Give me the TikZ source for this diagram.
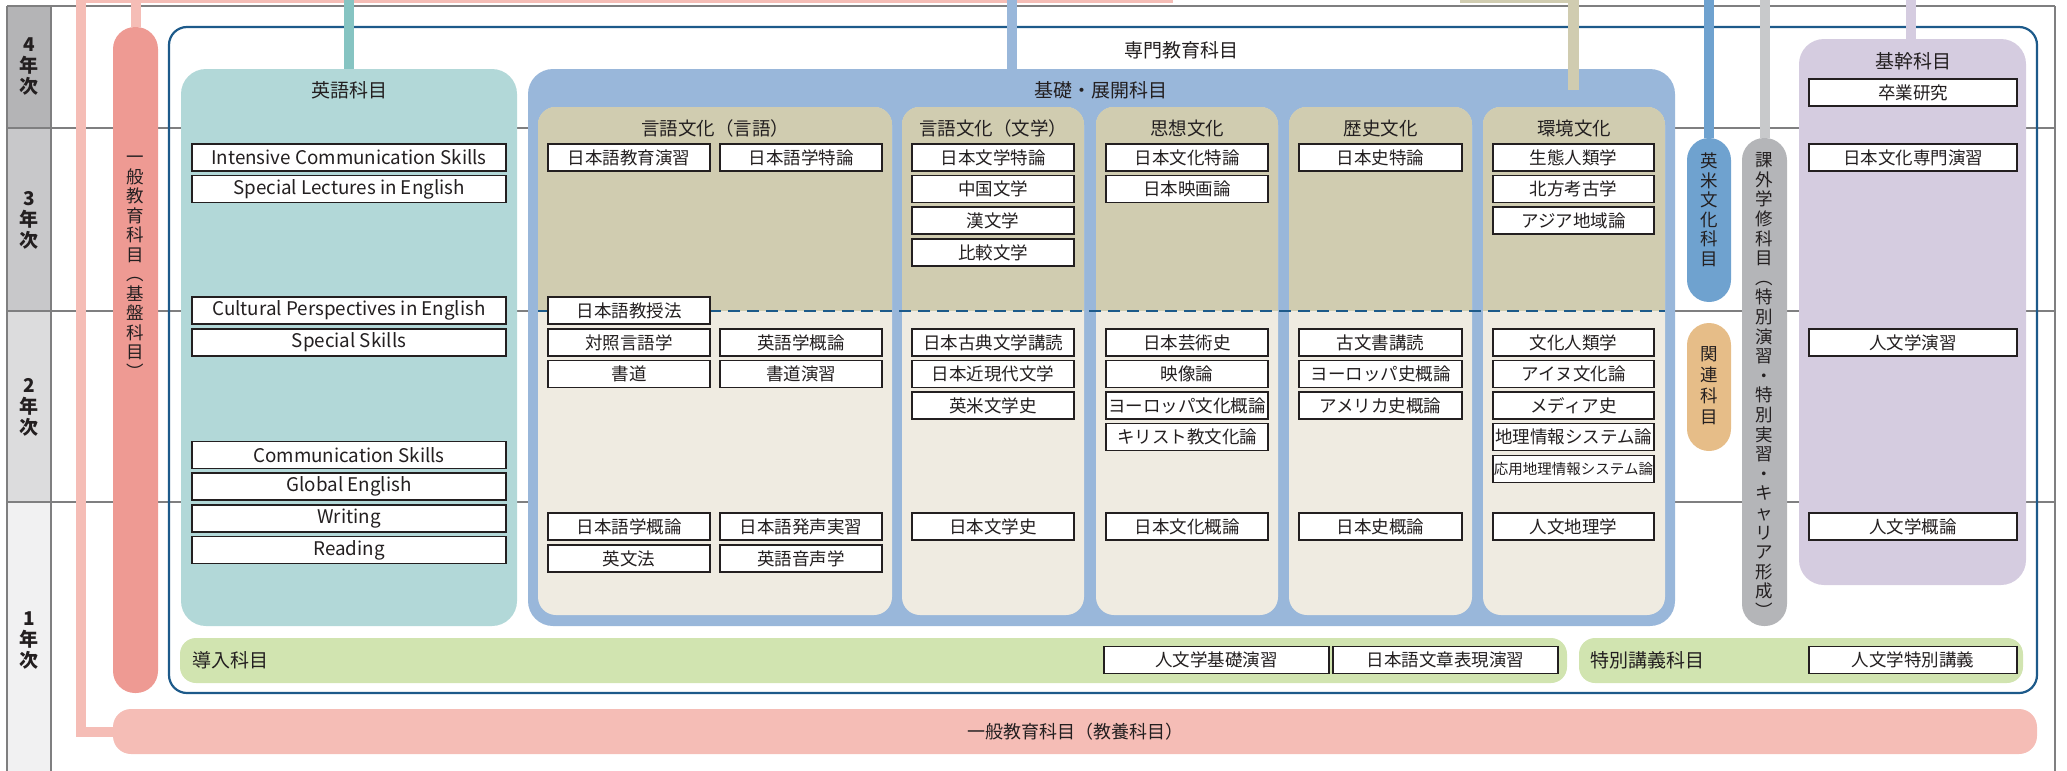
\documentclass[tikz,border=0pt]{standalone}
\usepackage{fontspec}
\setmainfont{Noto Sans CJK JP}
\usetikzlibrary{calc}
\definecolor{txt}{HTML}{231F20}
\definecolor{gridgray}{HTML}{7F7F80}
\definecolor{yr4}{HTML}{B4B4B6}
\definecolor{yr3}{HTML}{C8C8CA}
\definecolor{yr2}{HTML}{DCDCDD}
\definecolor{yr1}{HTML}{F1F1F2}
\definecolor{salmon}{HTML}{EE9A93}
\definecolor{lpink}{HTML}{F5BDB6}
\definecolor{navy}{HTML}{1D5A8A}
\definecolor{tealbox}{HTML}{B2D8D8}
\definecolor{tealline}{HTML}{86C4C2}
\definecolor{kisoblue}{HTML}{99B7DA}
\definecolor{khaki}{HTML}{D0CCB0}
\definecolor{cream}{HTML}{EFEBE1}
\definecolor{eiblue}{HTML}{6FA2CF}
\definecolor{kanorange}{HTML}{E6BD88}
\definecolor{kagray}{HTML}{B4B5B8}
\definecolor{kagrayl}{HTML}{C8C9CB}
\definecolor{purp}{HTML}{D5CCE0}
\definecolor{lgreen}{HTML}{D1E4B0}
\tikzset{
  course/.style={draw=txt,fill=white,line width=1.5pt,rectangle,minimum height=27pt,inner sep=0pt,text=txt,font=\fontsize{17.5}{18}\selectfont},
  encourse/.style={course,font=\fontsize{18.8}{19}\selectfont},
  panel/.style={fill=cream,rectangle,rounded corners=18pt,inner sep=0pt},
  pill/.style={rectangle,rounded corners=22pt,inner sep=0pt},
  vtxt/.style={align=center,inner sep=0pt,text=txt,font=\fontsize{17.5}{19.5}\selectfont},
  head/.style={inner sep=0pt,text=txt,font=\fontsize{19}{19}\selectfont},
  year/.style={align=center,inner sep=0pt,text=txt,font=\fontsize{19}{21}\bfseries\selectfont},
  stub/.style={line width=10pt},
  grid/.style={draw=gridgray,line width=1.2pt}
}
\begin{document}
\begin{tikzpicture}[x=1pt,y=-1pt]
\useasboundingbox (0,0) rectangle (2067,771);
\fill[yr4] (7,6) rectangle (51,128);
\fill[yr3] (7,128) rectangle (51,311);
\fill[yr2] (7,311) rectangle (51,502);
\fill[yr1] (7,502) rectangle (51,771);
\foreach \y in {6,128,311,502} {
  \draw[grid] (7,\y) -- (2055,\y);
}
\foreach \x in {7,51,2055} {
  \draw[grid] (\x,6) -- (\x,771);
}
\node[year] (Y4) at (29,67) {4\\年\\次};
\node[year] (Y3) at (29,220) {3\\年\\次};
\node[year] (Y2) at (29,407) {2\\年\\次};
\node[year] (Y1) at (29,640) {1\\年\\次};
% top connectors
\coordinate (PTOP) at (81,0);
\coordinate (PEND) at (1173,1);
\coordinate (KTOP) at (1460,1);
\coordinate (KEND) at (1579,1);
\draw[lpink,line width=3pt] (76,1) -- (PEND);
\draw[khaki,line width=3pt] (KTOP) -- (KEND);
\node[pill,fill=lpink,minimum width=1924pt,minimum height=45pt,rounded corners=18pt] (KYOYO) at (1075,731.5) {};
\node[head,font=\fontsize{18}{18}\selectfont] (KYOYOT) at (1075,731.5) {一般教育科目（教養科目）};
\draw[lpink,line width=10pt] (PTOP) |- (KYOYO.west);
\node[pill,fill=salmon,minimum width=45pt,minimum height=666pt] (KIBAN) at (135.5,360) {};
\draw[stub,lpink] (KIBAN.north) -- (KIBAN.north |- PTOP);
\node[vtxt] (KIBANT) at (135.5,267) {一\\般\\教\\育\\科\\目\\︵\\基\\盤\\科\\目\\︶};
\node[draw=navy,line width=2.2pt,rectangle,rounded corners=18pt,minimum width=1868pt,minimum height=666pt] (SENMON) at (1103,360) {};
\node[head] (SENMONT) at (1181,50) {専門教育科目};
% english
\node[rectangle,fill=tealbox,rounded corners=25pt,minimum width=336pt,minimum height=557pt] (EIGO) at (349,347.5) {};
\draw[stub,tealline] (EIGO.north) -- (EIGO.north |- PTOP);
\node[head] (EIGOT) at (349,90) {英語科目};
\foreach \t/\y [count=\i] in {Intensive Communication Skills/157.5,Special Lectures in English/189,Cultural Perspectives in English/310.5,Special Skills/342.5,Communication Skills/455,Global English/486.5,Writing/518.5,Reading/550} {
  \node[encourse,minimum width=314pt] (EN\i) at (349,\y) {\t};
}
% kiso
\node[rectangle,fill=kisoblue,rounded corners=25pt,minimum width=1147pt,minimum height=557pt] (KISO) at (1101.5,347.5) {};
\coordinate (KISOTOP) at (1012,0);
\draw[stub,kisoblue] (KISOTOP) -- (KISOTOP |- KISO.north);
\node[head] (KISOT) at (1101,90) {基礎・展開科目};
\coordinate (DASH) at (0,311);
\foreach \n/\x/\w/\t in {GL/715/354/言語文化（言語）,GB/993/182/言語文化（文学）,SS/1187/182/思想文化,RS/1380.5/183/歴史文化,KK/1574/182/環境文化} {
  \node[panel,minimum width=\w pt,minimum height=508pt] (\n) at (\x,361) {};
  \begin{scope}
    \clip[rounded corners=18pt] (\n.north west) rectangle (\n.south east);
    \fill[khaki] (\n.north west) rectangle (\n.east |- DASH);
  \end{scope}
  \node[head,font=\fontsize{18.5}{18.5}\selectfont] (\n T) at (\x,128) {\t};
}
\coordinate (KHTOP) at (1573.5,0);
\coordinate (KHBOT) at (1573.5,90);
\draw[stub,khaki,line width=11pt] (KHTOP) -- (KHBOT);
\coordinate (DASHL) at (538,311);
\coordinate (DASHR) at (1665,311);
\draw[navy,line width=2pt,dash pattern=on 12pt off 7pt] (DASHL) -- (DASHR);
\foreach \t/\y [count=\i] in {日本語教育演習/157.5,日本語教授法/310.5,対照言語学/342.5,書道/374,日本語学概論/526.5,英文法/558.5} {
  \node[course,minimum width=162pt] (GLL\i) at (629,\y) {\t};
}
\foreach \t/\y [count=\i] in {日本語学特論/157.5,英語学概論/342.5,書道演習/374,日本語発声実習/526.5,英語音声学/558.5} {
  \node[course,minimum width=162pt] (GLR\i) at (801,\y) {\t};
}
\foreach \t/\y [count=\i] in {日本文学特論/157.5,中国文学/189,漢文学/220.5,比較文学/252.5,日本古典文学講読/342.5,日本近現代文学/374,英米文学史/405.5,日本文学史/526.5} {
  \node[course,minimum width=162pt] (GB\i) at (993,\y) {\t};
}
\foreach \t/\y [count=\i] in {日本文化特論/157.5,日本映画論/189,日本芸術史/342.5,映像論/374,ヨーロッパ文化概論/405.5,キリスト教文化論/437,日本文化概論/526.5} {
  \node[course,minimum width=162pt] (SS\i) at (1187,\y) {\t};
}
\foreach \t/\y [count=\i] in {日本史特論/157.5,古文書講読/342.5,ヨーロッパ史概論/374,アメリカ史概論/405.5,日本史概論/526.5} {
  \node[course,minimum width=163pt] (RS\i) at (1380.5,\y) {\t};
}
\foreach \t/\y [count=\i] in {生態人類学/157.5,北方考古学/189,アジア地域論/220.5,文化人類学/342.5,アイヌ文化論/374,メディア史/405.5,地理情報システム論/437,人文地理学/526.5} {
  \node[course,minimum width=161pt] (KK\i) at (1573.5,\y) {\t};
}
\node[course,minimum width=161pt,font=\fontsize{14.5}{15}\selectfont] (KK9) at (1573.5,469) {応用地理情報システム論};
% right side
\node[pill,fill=eiblue,minimum width=44pt,minimum height=164pt] (EIBEI) at (1709,220) {};
\draw[stub,eiblue] (EIBEI.north) -- (EIBEI.north |- PTOP);
\node[vtxt] (EIBEIT) at (1709,210) {英\\米\\文\\化\\科\\目};
\node[pill,fill=kanorange,minimum width=44pt,minimum height=128pt] (KANREN) at (1709,387) {};
\node[vtxt,font=\fontsize{17.5}{21}\selectfont] (KANRENT) at (1709,386) {関\\連\\科\\目};
\node[pill,fill=kagray,minimum width=45pt,minimum height=488pt] (KAGAI) at (1764.5,382) {};
\draw[stub,kagrayl] (KAGAI.north) -- (KAGAI.north |- PTOP);
\node[vtxt,font=\fontsize{17.5}{19.6}\selectfont] (KAGAIT) at (1764.5,385) {課\\外\\学\\修\\科\\目\\︵\\特\\別\\演\\習\\・\\特\\別\\実\\習\\・\\キ\\ャ\\リ\\ア\\形\\成\\︶};
\node[rectangle,fill=purp,rounded corners=25pt,minimum width=227pt,minimum height=546pt] (KIKAN) at (1912.5,312) {};
\coordinate (KIKANTOP) at (1911,0);
\draw[stub,purp] (KIKANTOP) -- (KIKANTOP |- KIKAN.north);
\node[head] (KIKANT) at (1913,61) {基幹科目};
\foreach \t/\y [count=\i] in {卒業研究/92.5,日本文化専門演習/157.5,人文学演習/342.5,人文学概論/526.5} {
  \node[course,minimum width=208pt] (KI\i) at (1913,\y) {\t};
}
% bottom bars
\node[rectangle,fill=lgreen,rounded corners=16pt,minimum width=1387pt,minimum height=45pt] (DONYU) at (873.5,660.5) {};
\node[head,anchor=west] (DONYUT) at (192,660.5) {導入科目};
\node[course,minimum width=225pt] (DO1) at (1216.5,660) {人文学基礎演習};
\node[course,minimum width=225pt] (DO2) at (1445.5,660) {日本語文章表現演習};
\node[rectangle,fill=lgreen,rounded corners=16pt,minimum width=444pt,minimum height=45pt] (TOKU) at (1801,660.5) {};
\node[head,anchor=west] (TOKUT) at (1590,660.5) {特別講義科目};
\node[course,minimum width=208pt] (TO1) at (1913,660) {人文学特別講義};
\end{tikzpicture}
\end{document}
